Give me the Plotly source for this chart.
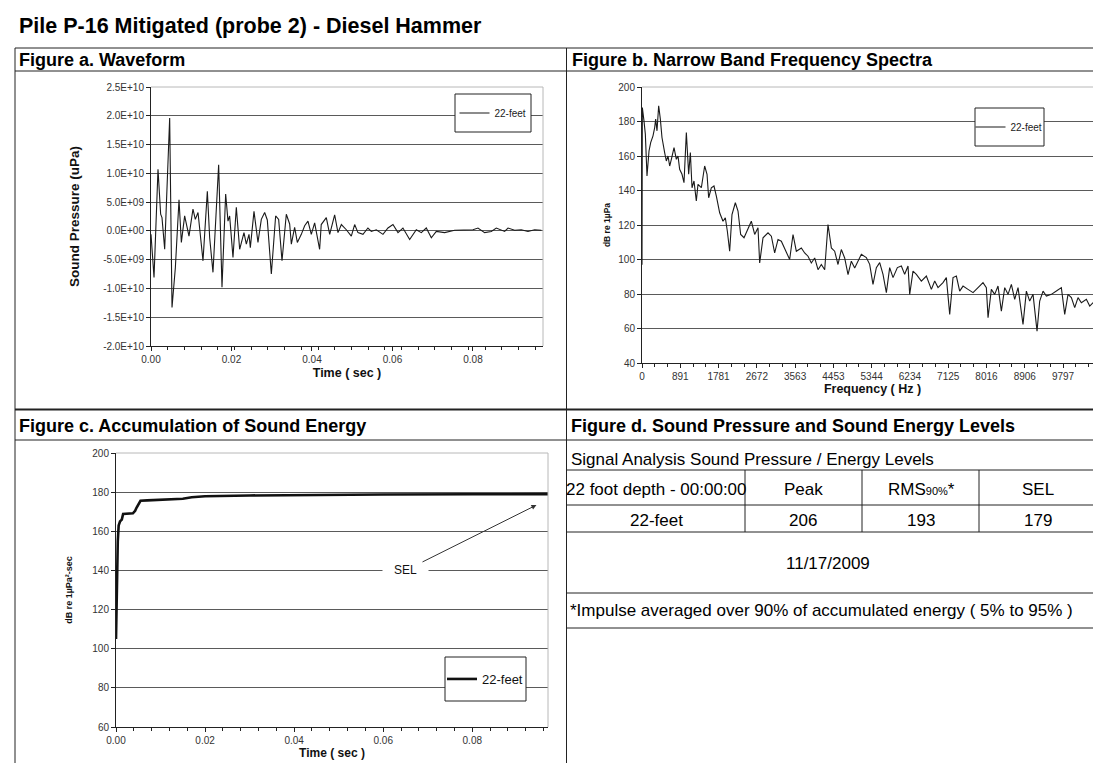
import plotly.graph_objects as go

W, H = 1101, 763
FONT = "Liberation Sans, Arial, sans-serif"

# ---------------- data ----------------
main_title = "Pile P-16 Mitigated (probe 2) - Diesel Hammer"
series_name = "22-feet"

# Figure a: waveform (time in ms, pressure in 1e9 uPa)
wave_time_ms = [0.0, 0.75, 1.74, 2.40, 2.73, 3.40, 4.64, 5.22, 6.05, 6.96, 7.54, 8.36, 9.44,
                10.43, 11.01, 11.68, 12.92, 14.0, 14.58, 15.40, 16.81, 17.64, 18.55, 19.13,
                19.54, 20.37, 21.2, 22.03, 23.1, 23.69, 24.35, 24.68, 25.59, 26.58, 27.41,
                28.24, 28.9, 29.9, 30.97, 31.72, 32.55, 33.62, 34.45, 34.87, 35.69, 36.36,
                37.35, 38.18, 39.0, 39.83, 40.66, 41.9, 42.3, 43.56, 44.4, 45.63, 46.46,
                47.3, 48.53, 49.77, 50.6, 51.43, 52.67, 53.9, 54.74, 55.98, 57.64, 58.88,
                60.12, 61.37, 62.6, 64.27, 65.92, 67.16, 68.4, 69.65, 70.89, 72.96, 75.45,
                77.93, 80.0, 81.24, 82.9, 84.55, 85.8, 87.87, 88.7, 90.35, 92.0, 93.66,
                95.32, 96.98]
wave_pressure_e9 = [-0.6, -8.1, 10.7, 2.9, 2.3, -3.2, 19.6, -13.3, -6.4, 5.4, -2.0, 2.6, -0.9,
                    3.8, 2.0, 3.2, -5.2, 6.9, -1.2, -7.2, 11.5, -9.8, 6.4, 1.7,
                    2.6, -4.6, 4.1, -3.2, -0.3, -2.3, -0.6, -2.9, 3.4, -2.0, 2.0,
                    3.2, 1.9, -7.5, 2.6, 2.0, -5.2, 2.9, 1.2, -2.3, 0.6, -2.0,
                    -0.6, 0.9, 1.7, -0.6, 1.4, -3.2, 1.1, 2.3, -0.6, 2.8, -0.3,
                    1.1, 0.2, -0.9, 1.1, -0.3, -0.6, 0.5, -0.1, 0.2, -0.6, 0.5,
                    1.1, -0.3, 0.5, -1.5, 0.2, -0.3, 0.5, -1.2, -0.1, -0.3, 0.1,
                    0.2, 0.2, 0.5, -0.3, -0.1, 0.5, -0.1, 0.5, 0.1, 0.2, -0.1,
                    0.2, 0.1]

# Figure b: narrow band spectrum
spec_freq_hz = [0, 8, 46, 78, 116, 163, 202, 256, 295, 318, 349, 388, 427, 465, 527, 566, 605,
                644, 683, 745, 799, 838, 876, 931, 977, 1032, 1086, 1125, 1164, 1210, 1264,
                1303, 1381, 1458, 1513, 1551, 1613, 1675, 1730, 1807, 1885, 1939, 1986, 2040,
                2094, 2172, 2234, 2296, 2374, 2467, 2544, 2622, 2699, 2738, 2816, 2932, 3010,
                3087, 3165, 3242, 3320, 3436, 3514, 3591, 3708, 3785, 3863, 3940, 4018, 4096,
                4173, 4251, 4328, 4406, 4483, 4561, 4638, 4716, 4794, 4871, 4949,
                4988, 5104, 5220, 5298, 5375, 5453, 5531, 5608, 5686, 5763, 5841, 5942, 6035,
                6112, 6190, 6229, 6306, 6384, 6500, 6617, 6733, 6811, 6888, 7004, 7082, 7160,
                7237, 7315, 7392, 7470, 7586, 7703, 7819, 7935, 8013, 8052, 8129, 8207, 8284,
                8362, 8440, 8517, 8595, 8672, 8750, 8866, 8944, 9021, 9099, 9192, 9254, 9332,
                9409, 9526, 9642, 9758, 9836, 9913, 9991, 10069, 10146, 10224, 10340, 10418,
                10534, 10612, 10689]
spec_level_db = [97, 188.1, 180.4, 172.6, 148.4, 162.9, 167.8, 171.7, 176.5, 181.4, 174.6, 189.1,
                 181.4, 170.7, 162.0, 157.1, 160.0, 154.2, 158.1, 164.9, 158.1, 160.0, 152.3,
                 149.4, 144.5, 173.6, 149.4, 162.0, 141.6, 145.5, 133.9, 143.6, 141.6, 154.2,
                 149.4, 135.8, 141.6, 142.6, 136.8, 127.1, 122.2, 124.2, 116.4, 104.8, 126.1,
                 132.9, 128.1, 114.5, 112.6, 118.4, 122.2, 114.5, 118.4, 98.0, 112.6, 115.5,
                 113.5, 103.8, 111.6, 110.6, 106.7, 100.0, 114.5, 104.8, 106.7, 103.8, 101.9,
                 98.0, 100.9, 94.1, 97.1, 94.1, 120.3, 106.7, 104.8, 97.1, 105.8, 100.9, 91.2,
                 99.0, 95.1,
                 97.2, 103.0, 101.1, 97.2, 85.6, 95.3, 98.2, 91.4, 80.8, 95.3, 89.5, 95.3, 96.2,
                 91.4, 96.2, 79.8, 93.3, 91.4, 87.5, 90.4, 82.7, 87.5, 83.7, 86.6, 89.5, 68.2,
                 89.5, 90.4, 81.7, 84.6, 82.7, 80.8, 83.7, 86.6, 83.7, 66.3, 82.7, 79.8, 84.6,
                 70.1, 83.7, 79.8, 85.6, 76.9, 83.7, 62.4, 81.7, 75.9, 79.8, 58.5, 75.9, 81.7,
                 78.8, 79.8, 81.7, 83.7, 68.2, 79.8, 77.9, 72.1, 77.9, 74.9, 76.9, 73.0,
                 75.9, 74.0, 68.2]

# Figure c: accumulation of sound energy
accum_time_s = [0.0, 0.0002, 0.0004, 0.0006, 0.0009, 0.0013, 0.0016, 0.0038, 0.0043, 0.0046,
                0.0051, 0.0055, 0.007, 0.012, 0.015, 0.017, 0.02, 0.03, 0.04, 0.06, 0.08, 0.0974]
accum_level_db = [105, 138, 155, 163, 165, 166, 168.8, 169.2, 170.5, 172, 174.5, 175.6, 175.8,
                  176.1, 176.6, 177.4, 177.9, 178.3, 178.5, 178.8, 178.9, 179.0]

wave_ytick_vals = [2.5e10, 2.0e10, 1.5e10, 1.0e10, 5.0e9, 0.0, -5.0e9, -1.0e10, -1.5e10, -2.0e10]
wave_ytick_text = ["2.5E+10", "2.0E+10", "1.5E+10", "1.0E+10", "5.0E+09", "0.0E+00",
                   "-5.0E+09", "-1.0E+10", "-1.5E+10", "-2.0E+10"]
time_tick_vals = [0.0, 0.02, 0.04, 0.06, 0.08]
freq_tick_vals = [0, 890.625, 1781.25, 2671.875, 3562.5, 4453.125, 5343.75, 6234.375,
                  7125, 8015.625, 8906.25, 9796.875]
freq_tick_text = ["0", "891", "1781", "2672", "3563", "4453", "5344", "6234", "7125",
                  "8016", "8906", "9797"]

# Figure d: table
table_title = "Signal Analysis Sound Pressure / Energy Levels"
table_row_label = "22 foot depth - 00:00:00"
table_columns = ["Peak", "RMS<span style='font-size:11px'>90%</span>*", "SEL"]
table_values = [206, 193, 179]
table_date = "11/17/2009"
table_note = "*Impulse averaged over 90% of accumulated energy ( 5% to 95% )"

panel_titles = ["Figure a. Waveform", "Figure b. Narrow Band Frequency Spectra",
                "Figure c. Accumulation of Sound Energy",
                "Figure d. Sound Pressure and Sound Energy Levels"]


# ---------------- helpers (pixel -> paper) ----------------
def X(px):
    return px / W


def Y(py):
    return 1 - py / H


fig = go.Figure()
fig.add_trace(go.Scatter(x=[t / 1000 for t in wave_time_ms], y=[v * 1e9 for v in wave_pressure_e9],
                         mode="lines", line=dict(color="#1a1a1a", width=1.1), name=series_name,
                         xaxis="x", yaxis="y", legend="legend"))
fig.add_trace(go.Scatter(x=spec_freq_hz, y=spec_level_db, mode="lines",
                         line=dict(color="#1a1a1a", width=1.1), name=series_name,
                         xaxis="x2", yaxis="y2", legend="legend2"))
fig.add_trace(go.Scatter(x=accum_time_s, y=accum_level_db, mode="lines",
                         line=dict(color="#111111", width=2.6), name=series_name,
                         xaxis="x3", yaxis="y3", legend="legend3"))

tickfont = dict(size=10, color="#333333", family=FONT)
base = dict(showline=True, linecolor="#222222", linewidth=1, ticks="outside", ticklen=4,
            tickcolor="#222222", tickfont=tickfont, zeroline=False, mirror=False)
ybase = dict(base, showgrid=True, gridcolor="#5a5a5a", gridwidth=1)
xbase = dict(base, showgrid=False)


def title(text, size, standoff):
    return dict(text="<b>" + text + "</b>", font=dict(size=size, color="#111111", family=FONT),
                standoff=standoff)


fig.update_layout(
    width=W, height=H, margin=dict(l=0, r=0, t=0, b=0), template="none",
    paper_bgcolor="white", plot_bgcolor="white",
    font=dict(family=FONT, color="#000000"),
    xaxis=dict(xbase, domain=[X(143), X(535)], range=[0, 0.0974], anchor="y",
               tickvals=time_tick_vals, tickformat=".2f",
               minor=dict(ticks="outside", ticklen=3, dtick=0.00415, tick0=0, tickcolor="#222222"),
               title=title("Time ( sec )", 12.5, 4)),
    yaxis=dict(ybase, domain=[Y(338), Y(79)], range=[-2.0e10, 2.5e10], anchor="x",
               tickvals=wave_ytick_vals, ticktext=wave_ytick_text,
               title=title("Sound Pressure (uPa)", 13.5, 20)),
    xaxis2=dict(xbase, domain=[X(634), X(1095)], range=[0, 10727], anchor="y2",
                tickvals=freq_tick_vals, ticktext=freq_tick_text,
                minor=dict(ticks="outside", ticklen=3, dtick=296.875, tick0=0, tickcolor="#222222"),
                title=title("Frequency ( Hz )", 12.5, 2)),
    yaxis2=dict(ybase, domain=[Y(355), Y(79)], range=[40, 200], dtick=20, anchor="x2",
                title=title("dB re 1µPa", 8.5, 6)),
    xaxis3=dict(xbase, domain=[X(108), X(540)], range=[0, 0.097], anchor="y3",
                tickvals=time_tick_vals, tickformat=".2f",
                minor=dict(ticks="outside", ticklen=3, dtick=0.004, tick0=0, tickcolor="#222222"),
                title=title("Time ( sec )", 12, 3)),
    yaxis3=dict(ybase, domain=[Y(719), Y(445)], range=[60, 200], dtick=20, anchor="x3",
                title=title("dB re 1µPa²-sec", 9, 18)),
    legend=dict(x=X(485), y=Y(105), xanchor="center", yanchor="middle", bgcolor="rgba(0,0,0,0)",
                borderwidth=0, font=dict(size=10, color="#222222"), itemwidth=30),
    legend2=dict(x=X(1001), y=Y(119), xanchor="center", yanchor="middle", bgcolor="rgba(0,0,0,0)",
                 borderwidth=0, font=dict(size=10, color="#222222"), itemwidth=30),
    legend3=dict(x=X(477), y=Y(671), xanchor="center", yanchor="middle", bgcolor="rgba(0,0,0,0)",
                 borderwidth=0, font=dict(size=13, color="#111111"), itemwidth=30),
    showlegend=True,
)

shapes = []


def hline(py, x0, x1, w=1, color="#222222"):
    shapes.append(dict(type="line", xref="paper", yref="paper", x0=X(x0), x1=X(x1), y0=Y(py), y1=Y(py),
                       line=dict(color=color, width=w), layer="above"))


def vline(px, y0, y1, w=1, color="#222222"):
    shapes.append(dict(type="line", xref="paper", yref="paper", x0=X(px), x1=X(px), y0=Y(y0), y1=Y(y1),
                       line=dict(color=color, width=w), layer="above"))


# frame
hline(40, 7, 1101)
vline(7, 40, 763)
hline(63, 7, 1101)
vline(558.5, 40, 763)
hline(401.5, 7, 1101, w=2)
hline(432, 7, 1101)
# table lines
for py in [462, 497, 524, 585, 620]:
    hline(py, 558.5, 1101)
for px in [737, 854, 971]:
    vline(px, 462, 524)

# plot area light borders (top & right)
for ax in ["", "2", "3"]:
    shapes.append(dict(type="line", xref="x%s domain" % ax, yref="y%s domain" % ax,
                       x0=0, x1=1, y0=1, y1=1, line=dict(color="#b8b8b8", width=1), layer="above"))
    shapes.append(dict(type="line", xref="x%s domain" % ax, yref="y%s domain" % ax,
                       x0=1, x1=1, y0=0, y1=1, line=dict(color="#b8b8b8", width=1), layer="above"))

# legend boxes
for (x0, y0, x1, y1) in [(447, 86, 523, 124), (967, 100, 1036, 138), (437, 649, 518, 693)]:
    shapes.append(dict(type="rect", xref="paper", yref="paper", x0=X(x0), x1=X(x1), y0=Y(y1), y1=Y(y0),
                       line=dict(color="#222222", width=1), fillcolor="white", layer="above"))

fig.update_layout(shapes=shapes)

ann = []


def text(px, py, s, size, bold=False, anchor="left", color="#000000"):
    ann.append(dict(xref="paper", yref="paper", x=X(px), y=Y(py), xanchor=anchor, yanchor="middle",
                    text=("<b>%s</b>" % s) if bold else s, showarrow=False,
                    font=dict(size=size, color=color, family=FONT)))


text(9, 18, main_title, 21.5, bold=True)
text(9, 52, panel_titles[0], 18, bold=True)
text(562, 52, panel_titles[1], 18, bold=True)
text(9, 418, panel_titles[2], 18, bold=True)
text(561, 418, panel_titles[3], 18, bold=True)

text(561, 451, table_title, 17)
text(648, 481, table_row_label, 17, anchor="center")
col_centers = [795, 913, 1030]
for cx, col, val in zip(col_centers, table_columns, table_values):
    text(cx, 481, col, 17, anchor="center")
    text(cx, 512, str(val), 17, anchor="center")
text(648, 512, series_name, 17, anchor="center")
text(820, 555, table_date, 17, anchor="center")
text(560, 602, table_note, 17)

# SEL arrow annotation
ann.append(dict(xref="x3", yref="y3", x=0.0944, y=173.4, axref="x3", ayref="y3", ax=0.065, ay=140,
                text="&nbsp;&nbsp;&nbsp;SEL&nbsp;&nbsp;&nbsp;", showarrow=True, arrowhead=2,
                arrowsize=1, arrowwidth=1, arrowcolor="#333333", bgcolor="white",
                font=dict(size=12, color="#111111", family=FONT)))

fig.update_layout(annotations=ann)
fig.write_html("out.html")
